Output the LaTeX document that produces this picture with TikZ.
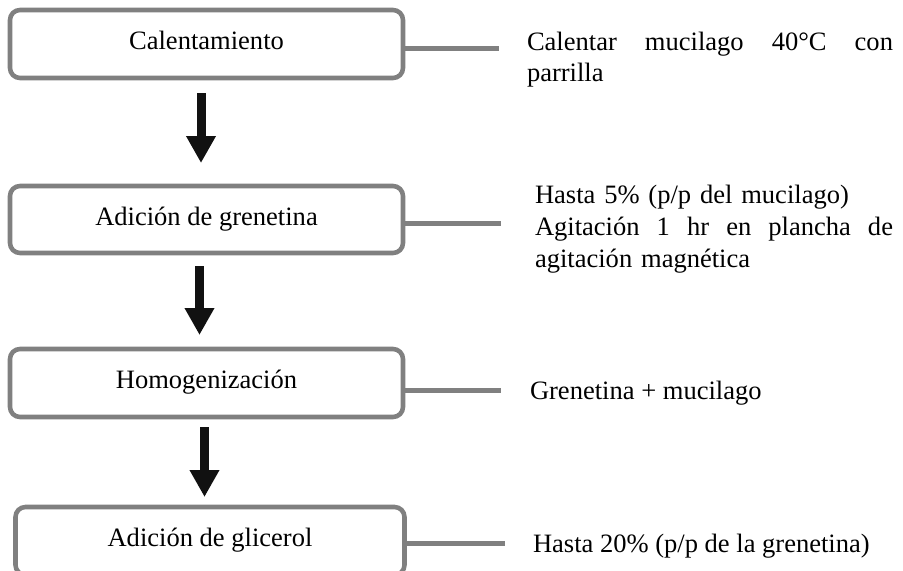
\documentclass[tikz,border=0pt]{standalone}
\usepackage{fontspec}
\setmainfont{Liberation Serif}
\usetikzlibrary{arrows.meta,calc}
\definecolor{boxgray}{HTML}{808080}
\definecolor{arrowblack}{HTML}{111111}
\begin{document}
\begin{tikzpicture}[x=0.75pt,y=-0.75pt,
  stepbox/.style={draw=boxgray,line width=3.4pt,rounded corners=7.5pt,outer sep=0pt,inner sep=0pt,
    minimum width=294.75pt,minimum height=51pt,text height=13.9pt,text depth=5pt,
    font=\fontsize{19.9pt}{24pt}\selectfont},
  link/.style={draw=boxgray,line width=3.75pt},
  flow/.style={draw=arrowblack,fill=arrowblack,line width=6.75pt,-{Triangle[width=21pt,length=20.25pt]}},
  note/.style={anchor=base west,inner sep=0pt,outer sep=0pt,font=\fontsize{19.9pt}{24pt}\selectfont}]
\useasboundingbox (0,0) rectangle (903,571);

% process boxes
\node[stepbox] (b1) at (206.5,44) {Calentamiento};
\node[stepbox,minimum height=50.25pt] (b2) at (206.5,219.5) {Adición de grenetina};
\node[stepbox] (b3) at (206.5,383) {Homogenización};
\node[stepbox,minimum width=291.75pt] (b4) at (210,541) {Adición de glicerol};

% side connectors
\coordinate (e1) at (499,48);
\coordinate (e2) at (501,223);
\coordinate (e3) at (501,390);
\coordinate (e4) at (505,543);
\draw[link] (b1.east |- e1) -- (e1);
\draw[link] (b2.east |- e2) -- (e2);
\draw[link] (b3.east |- e3) -- (e3);
\draw[link] (b4.east |- e4) -- (e4);

% flow arrows
\draw[flow,shorten <=11.25pt,shorten >=17.25pt] ([xshift=-4.125pt]b1.south) -- ([xshift=-4.125pt]b1.south |- b2.north);
\draw[flow,shorten <=9.75pt,shorten >=10.5pt] ([xshift=-5.25pt]b2.south) -- ([xshift=-5.25pt]b2.south |- b3.north);
\draw[flow,shorten <=7.5pt,shorten >=7.5pt] ([xshift=-1.5pt]b3.south) -- ([xshift=-1.5pt]b3.south |- b4.north);

% notes
\node[note,text width=274.5pt] (t1) at (527,50) {Calentar\hfill mucilago\hfill 40°C\hfill con\\parrilla};
\node[note,text width=268.5pt] (t2) at (535,203) {Hasta 5\% (p/p del mucilago)\\Agitación\hfill 1\hfill hr\hfill en\hfill plancha\hfill de\\agitación magnética};
\node[note] (t3) at (530,399) {Grenetina + mucilago};
\node[note] (t4) at (533,552) {Hasta 20\% (p/p de la grenetina)};
\end{tikzpicture}
\end{document}
